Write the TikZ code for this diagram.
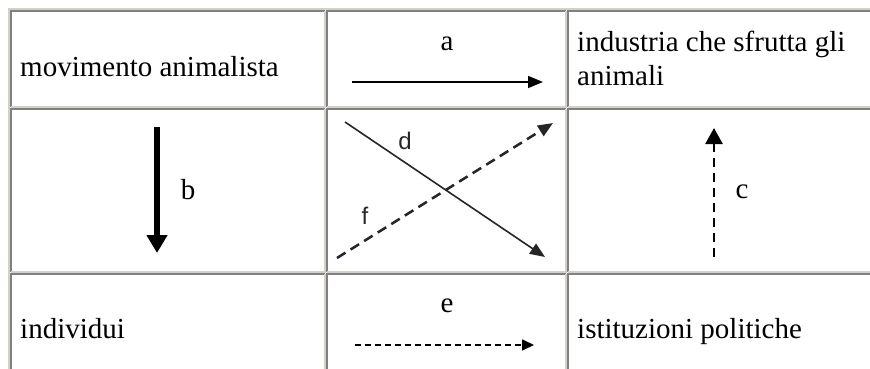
\documentclass[tikz,border=0pt]{standalone}
\usepackage{fontspec}
\setmainfont{Liberation Serif}
\newfontfamily\gifsans{Liberation Sans}
\usepackage{xcolor}
\definecolor{cellDark}{HTML}{808080}
\definecolor{cellLight}{HTML}{D4D0C8}
\usetikzlibrary{arrows.meta}

\begin{document}
\begin{tikzpicture}[x=1pt, y=-1pt, >={Triangle[length=15pt, width=12pt]},
    celltext/.style={anchor=base west, inner sep=0pt, font=\fontsize{29}{33}\selectfont},
    lbl/.style={anchor=base, inner sep=0pt, font=\fontsize{29}{33}\selectfont},
    giflbl/.style={inner sep=0pt, text=black!85, font=\gifsans\fontsize{24}{24}\selectfont}]
  \useasboundingbox (0,0) rectangle (870,369);
  \fill[white] (0,0) rectangle (870,369);
  % ---------- table frame ----------
  \draw[cellLight, line width=2pt] (9,400) -- (9,9) -- (900,9);
  \foreach \xl/\xr in {11/325, 327/566, 568/900}
    \foreach \yt/\yb in {11/107, 109/272, 274/400} {
      \draw[cellDark, line width=1.5pt] (\xl,\yb) -- (\xl,\yt) -- (\xr,\yt);
      \draw[cellLight, line width=1.5pt] (\xl,\yb) -- (\xr,\yb) -- (\xr,\yt);
    }
  % ---------- cell texts ----------
  \node[celltext] (movimento) at (20,77) {movimento animalista};
  \node[celltext] (industria) at (577,52) {industria che sfrutta gli};
  \node[celltext] (animali) at (577,85) {animali};
  \node[celltext] (individui) at (20,338) {individui};
  \node[celltext] (istituzioni) at (577,338) {istituzioni politiche};
  % ---------- a: top row ----------
  \coordinate (a-start) at (352,82);
  \coordinate (a-end) at (543,82);
  \draw[->, line width=1.5pt] (a-start) -- (a-end);
  \node[lbl] (a) at (447,51) {a};
  % ---------- b: left column, thick ----------
  \coordinate (b-start) at (157,127);
  \coordinate (b-end) at (157,253);
  \draw[-{Triangle[length=18pt, width=20pt]}, line width=6pt] (b-start) -- (b-end);
  \node[lbl] (b) at (188,199) {b};
  % ---------- c: right column, dashed ----------
  \coordinate (c-start) at (714,257);
  \coordinate (c-end) at (714,128);
  \draw[-{Triangle[length=16pt, width=17pt]}, line width=2.6pt, dash pattern=on 9pt off 6pt] (c-start) -- (c-end);
  \node[lbl] (c) at (742,198) {c};
  % ---------- d and f: crossing in the middle ----------
  \coordinate (d-start) at (345,122);
  \coordinate (d-end) at (545,257);
  \draw[->, line width=1.6pt, black!85] (d-start) -- (d-end);
  \node[giflbl] (d) at (405,141) {d};
  \coordinate (f-start) at (337,258);
  \coordinate (f-end) at (553,123);
  \draw[->, line width=2.5pt, black!85, dash pattern=on 10pt off 6pt] (f-start) -- (f-end);
  \node[giflbl] (f) at (365,216) {f};
  % ---------- e: bottom row, dashed ----------
  \coordinate (e-start) at (355,345);
  \coordinate (e-end) at (534,345);
  \draw[-{Triangle[length=12pt, width=11pt]}, line width=1.7pt, dash pattern=on 6pt off 4pt] (e-start) -- (e-end);
  \node[lbl] (e) at (447,312) {e};
\end{tikzpicture}
\end{document}
